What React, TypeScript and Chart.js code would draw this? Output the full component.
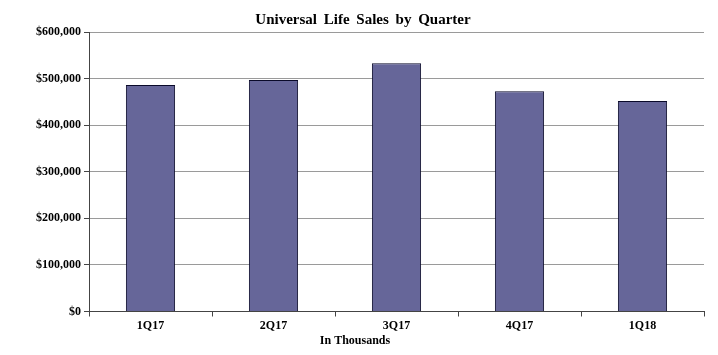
import React, { useEffect, useRef } from "react";
import { Chart, registerables } from "chart.js";

Chart.register(...registerables);

const categories = ["1Q17", "2Q17", "3Q17", "4Q17", "1Q18"];
const salesValues = [486000, 497000, 533000, 473000, 452000];
const chartTitle = "Universal Life Sales by Quarter";
const xAxisTitle = "In Thousands";
const yMax = 600000;
const yStep = 100000;

const FONT = "'Liberation Serif', 'Times New Roman', serif";

const spacingPlugin = {
  id: "spacingPlugin",
  beforeDraw(chart: any) {
    try {
      chart.ctx.wordSpacing = "3px";
    } catch (e) {}
  },
  afterDraw(chart: any) {
    try {
      chart.ctx.wordSpacing = "0px";
    } catch (e) {}
  },
};

const xTitlePlugin = {
  id: "xTitlePlugin",
  afterDraw(chart: any) {
    const ctx = chart.ctx;
    ctx.save();
    ctx.font = `bold 12px ${FONT}`;
    ctx.fillStyle = "#000";
    ctx.textAlign = "center";
    ctx.textBaseline = "middle";
    ctx.fillText(xAxisTitle, 355, 341);
    ctx.restore();
  },
};

export default function App() {
  const ref = useRef<HTMLCanvasElement | null>(null);
  useEffect(() => {
    document.body.style.margin = "0";
    const canvas = ref.current;
    if (!canvas) return;
    const chart = new Chart(canvas, {
      type: "bar",
      data: {
        labels: categories,
        datasets: [
          {
            data: salesValues,
            backgroundColor: "#666699",
            borderColor: "#0a0a2a",
            borderWidth: 1,
            barPercentage: 0.4,
            categoryPercentage: 1,
          },
        ],
      },
      plugins: [spacingPlugin, xTitlePlugin],
      options: {
        responsive: false,
        animation: false,
        devicePixelRatio: 1,
        layout: { padding: { left: 22, right: 14, top: 0, bottom: 0 } },
        plugins: {
          legend: { display: false },
          tooltip: { enabled: false },
          title: {
            display: true,
            text: chartTitle,
            color: "#000",
            font: { family: FONT, size: 15, weight: "bold" },
            padding: { top: 11.5, bottom: 2.5 },
          },
        },
        scales: {
          x: {
            afterFit: (scale: any) => {
              scale.height = 43.5;
            },
            grid: {
              drawOnChartArea: false,
              drawTicks: true,
              tickLength: 5,
              tickColor: "#444",
              offset: true,
            },
            border: { display: true, color: "#444", width: 1 },
            ticks: {
              color: "#000",
              padding: 2,
              font: { family: FONT, size: 12, weight: "bold" },
            },
          },
          y: {
            min: 0,
            max: yMax,
            afterFit: (scale: any) => {
              scale.width = 67;
            },
            grid: {
              color: "#9a9a9a",
              tickColor: "#444",
              tickLength: 5,
              lineWidth: 1,
            },
            border: { display: true, color: "#444", width: 1 },
            ticks: {
              stepSize: yStep,
              color: "#000",
              padding: 3,
              font: { family: FONT, size: 12, weight: "bold" },
              callback: (v: any) => "$" + Number(v).toLocaleString("en-US"),
            },
          },
        },
      },
    });
    return () => chart.destroy();
  }, []);
  return (
    <div style={{ position: "absolute", left: 0, top: 0, width: 718, height: 355, background: "#fff" }}>
      <canvas ref={ref} width={718} height={355} style={{ width: 718, height: 355 }} />
    </div>
  );
}
